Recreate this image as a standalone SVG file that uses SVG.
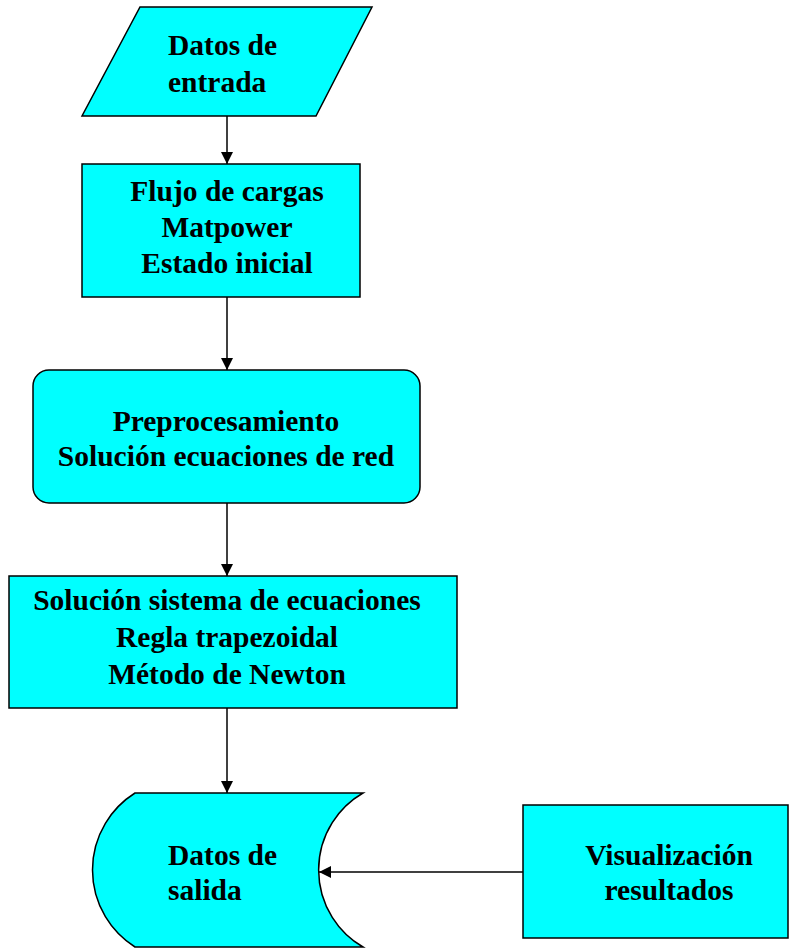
<svg xmlns="http://www.w3.org/2000/svg" width="789" height="949" viewBox="0 0 789 949">
<style>
.s{fill:#00ffff;stroke:#000;stroke-width:1.5}
.t{font-family:"Liberation Serif","Times New Roman",serif;font-weight:bold;font-size:29.5px;fill:#000}
.c{text-anchor:middle}
.e{stroke:#000;stroke-width:1.5;fill:none;marker-end:url(#ah)}
</style>
<defs>
<marker id="ah" markerUnits="userSpaceOnUse" markerWidth="12" markerHeight="12" viewBox="0 0 12 12" refX="12" refY="6" orient="auto">
<path d="M0,0 L12,6 L0,12 Z" fill="#000"/>
</marker>
</defs>
<g id="connectors">
<line class="e" x1="227" y1="116" x2="227" y2="164"/>
<line class="e" x1="227" y1="297" x2="227" y2="370"/>
<line class="e" x1="227" y1="503" x2="227" y2="576"/>
<line class="e" x1="227" y1="708" x2="227" y2="793"/>
<line class="e" x1="523" y1="872" x2="319" y2="872"/>
</g>
<g id="datos-entrada">
<polygon class="s" points="140,7 372,7 316,116 82,116"/>
<text class="t" x="168" y="55">Datos de</text>
<text class="t" x="168" y="92">entrada</text>
</g>
<g id="flujo-cargas">
<rect class="s" x="82" y="164" width="278" height="133"/>
<text class="t c" x="227" y="201">Flujo de cargas</text>
<text class="t c" x="227" y="237">Matpower</text>
<text class="t c" x="227" y="273">Estado inicial</text>
</g>
<g id="preprocesamiento">
<rect class="s" x="33" y="370" width="387" height="133" rx="16" ry="16"/>
<text class="t c" x="226" y="431">Preprocesamiento</text>
<text class="t c" x="226" y="466">Solución ecuaciones de red</text>
</g>
<g id="solucion-sistema">
<rect class="s" x="9" y="576" width="448" height="132"/>
<text class="t c" x="227" y="610">Solución sistema de ecuaciones</text>
<text class="t c" x="227" y="647">Regla trapezoidal</text>
<text class="t c" x="227" y="684">Método de Newton</text>
</g>
<g id="datos-salida">
<path class="s" d="M135,793 H363 A89,89 0 0 0 363,947 H135 A91,91 0 0 1 135,793 Z"/>
<text class="t" x="168" y="865">Datos de</text>
<text class="t" x="168" y="900">salida</text>
</g>
<g id="visualizacion">
<rect class="s" x="523" y="805" width="265" height="133"/>
<text class="t c" x="669" y="865">Visualización</text>
<text class="t c" x="669" y="900">resultados</text>
</g>
</svg>
